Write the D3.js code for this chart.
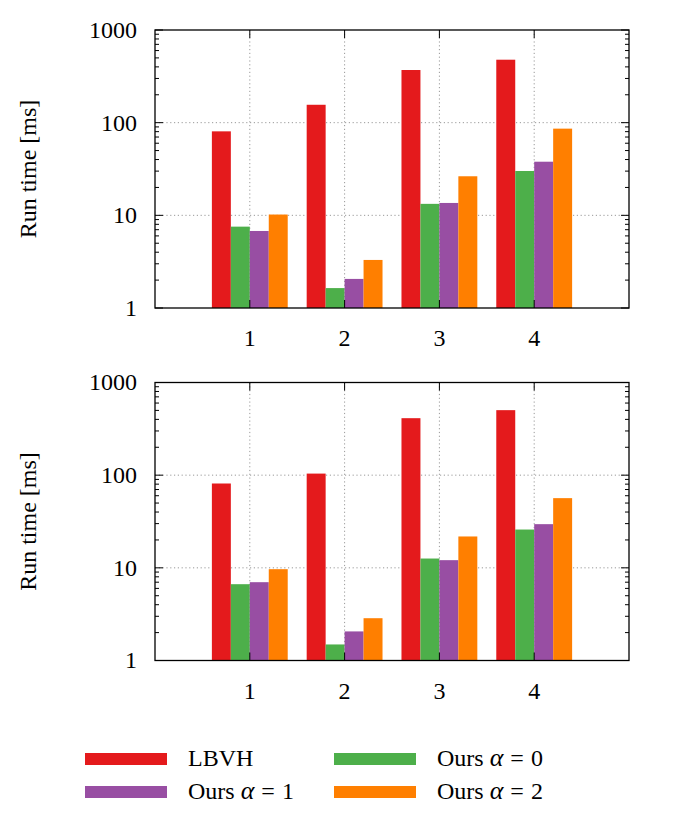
<!DOCTYPE html>
<html>
<head>
<meta charset="utf-8">
<script src="https://cdn.jsdelivr.net/npm/d3@7"></script>
<style>
  html, body { margin: 0; padding: 0; background: #fff; }
  text { font-family: "Liberation Serif", "DejaVu Serif", serif; fill: #000; }
</style>
</head>
<body>
<svg id="chart" width="685" height="817"></svg>
<script>
// ---- data ----
const categories = [1, 2, 3, 4];
const seriesNames = ["LBVH", "Ours α = 0", "Ours α = 1", "Ours α = 2"];
const seriesColors = ["#e41a1c", "#4daf4a", "#984ea3", "#ff7f00"];
// top panel
const topLBVH   = [80.6, 156, 370, 478];
const topAlpha0 = [7.55, 1.64, 13.3, 30.1];
const topAlpha1 = [6.78, 2.06, 13.6, 37.9];
const topAlpha2 = [10.2, 3.30, 26.4, 86.2];
// bottom panel
const botLBVH   = [81.3, 104, 412, 503];
const botAlpha0 = [6.66, 1.49, 12.6, 25.9];
const botAlpha1 = [7.0, 2.06, 12.1, 29.6];
const botAlpha2 = [9.67, 2.86, 21.8, 56.5];
const yTickValues = [1, 10, 100, 1000];
const yTickLabels = ["1", "10", "100", "1000"];
const xTickLabels = ["1", "2", "3", "4"];
const yLabel = "Run time [ms]";

const svg = d3.select("#chart");
const left = 155, right = 629;
const x = d3.scaleLinear().domain([0, 5]).range([left, right]);
const barW = 0.2;
const FS = 24;

function panel(top, bottom, series) {
  const y = d3.scaleLog().domain([1, 1000]).range([bottom, top]);
  const g = svg.append("g");

  // grid
  const grid = g.append("g").attr("stroke", "#999").attr("stroke-width", 1)
    .attr("stroke-dasharray", "1.2,2.6");
  categories.forEach(c => {
    grid.append("line").attr("x1", x(c)).attr("x2", x(c))
      .attr("y1", top).attr("y2", bottom);
  });
  [10, 100].forEach(v => {
    grid.append("line").attr("x1", left).attr("x2", right)
      .attr("y1", y(v)).attr("y2", y(v));
  });

  // bars
  series.forEach((vals, si) => {
    g.append("g").selectAll("rect").data(vals).join("rect")
      .attr("x", (d, i) => x(categories[i] - 0.4 + si * barW))
      .attr("width", x(barW) - x(0))
      .attr("y", d => y(d))
      .attr("height", d => y(1) - y(d))
      .attr("fill", seriesColors[si]);
  });

  // ticks
  const tk = g.append("g").attr("stroke", "#000").attr("stroke-width", 1);
  const minors = [];
  for (let e = 0; e < 3; e++) for (let m = 2; m <= 9; m++) minors.push(m * Math.pow(10, e));
  minors.forEach(v => {
    tk.append("line").attr("x1", left).attr("x2", left + 4).attr("y1", y(v)).attr("y2", y(v));
    tk.append("line").attr("x1", right).attr("x2", right - 4).attr("y1", y(v)).attr("y2", y(v));
  });
  yTickValues.forEach(v => {
    tk.append("line").attr("x1", left).attr("x2", left + 8).attr("y1", y(v)).attr("y2", y(v));
    tk.append("line").attr("x1", right).attr("x2", right - 8).attr("y1", y(v)).attr("y2", y(v));
  });
  categories.forEach(c => {
    tk.append("line").attr("x1", x(c)).attr("x2", x(c)).attr("y1", top).attr("y2", top + 8);
    tk.append("line").attr("x1", x(c)).attr("x2", x(c)).attr("y1", bottom).attr("y2", bottom - 8);
  });

  // frame
  g.append("rect").attr("x", left).attr("y", top).attr("width", right - left)
    .attr("height", bottom - top).attr("fill", "none").attr("stroke", "#000").attr("stroke-width", 1.3);

  // labels
  yTickValues.forEach((v, i) => {
    g.append("text").attr("x", 137).attr("y", y(v)).attr("dy", "0.33em")
      .attr("text-anchor", "end").attr("font-size", FS).text(yTickLabels[i]);
  });
  categories.forEach((c, i) => {
    g.append("text").attr("x", x(c)).attr("y", bottom + 38)
      .attr("text-anchor", "middle").attr("font-size", FS).text(xTickLabels[i]);
  });
  g.append("text").attr("transform", `translate(36,${(top + bottom) / 2}) rotate(-90)`)
    .attr("text-anchor", "middle").attr("font-size", FS).text(yLabel);
}

panel(30, 308, [topLBVH, topAlpha0, topAlpha1, topAlpha2]);
panel(382.5, 660.5, [botLBVH, botAlpha0, botAlpha1, botAlpha2]);

// legend
const legendPos = [[85, 753], [334, 753], [85, 786], [334, 786]];
seriesNames.forEach((name, i) => {
  const [lx, ly] = legendPos[i];
  svg.append("rect").attr("x", lx).attr("y", ly).attr("width", 82).attr("height", 12)
    .attr("fill", seriesColors[i]);
  const t = svg.append("text").attr("x", lx + 103).attr("y", ly + 13).attr("font-size", FS);
  if (name.includes("α")) {
    const m = name.match(/^(.*?)\s*α\s*=\s*(.*)$/);
    t.append("tspan").text(m[1] + " ");
    t.append("tspan").attr("font-style", "italic").attr("font-size", FS + 2).text("α");
    t.append("tspan").attr("dx", 7).text("=");
    t.append("tspan").attr("dx", 7).text(m[2]);
  } else {
    t.text(name);
  }
});
</script>
</body>
</html>
